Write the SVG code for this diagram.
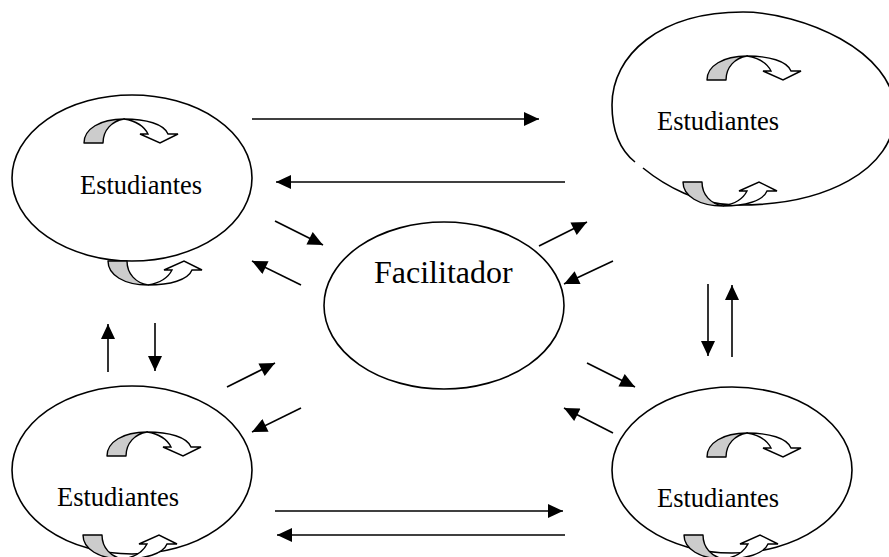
<svg xmlns="http://www.w3.org/2000/svg" xmlns:xlink="http://www.w3.org/1999/xlink" width="889" height="557" viewBox="0 0 889 557">
<style>
.node{fill:#fff;stroke:#000;stroke-width:1.6}
.lbl{font-family:"Liberation Serif","Times New Roman",serif;font-size:26.5px;fill:#000}
.big{font-size:32px}
.g{fill:#cccccc;stroke:#000;stroke-width:1.4;stroke-linejoin:round}
.w{fill:#fff;stroke:#000;stroke-width:1.4;stroke-linejoin:miter}
.c{stroke:#000;stroke-width:1.6;fill:none;marker-end:url(#ah)}
</style>
<defs>
<marker id="ah" markerUnits="userSpaceOnUse" markerWidth="16" markerHeight="14" refX="15" refY="7" orient="auto" viewBox="0 0 15 14">
<path d="M0,0 L15,7 L0,14 Z" fill="#000"/>
</marker>
<g id="ca">
<path class="g" d="M0,0 C0,-14 16,-24 40,-24 C28,-22 19,-13 19,0 Z"/>
<path class="w" d="M40,-24 C62,-24 80,-19 84,-9 L94,-9 L76,0 L56,-9 L64,-9 C60,-17 52,-22 40,-24 Z"/>
</g>
</defs>
<rect width="889" height="557" fill="#fff"/>
<g id="connectors">
<line class="c" x1="252" y1="119" x2="539" y2="119"/>
<line class="c" x1="565" y1="182" x2="276" y2="182"/>
<line class="c" x1="275" y1="511" x2="563" y2="511"/>
<line class="c" x1="565" y1="535" x2="277" y2="535"/>
<line class="c" x1="108" y1="372" x2="108" y2="324"/>
<line class="c" x1="155" y1="323" x2="155" y2="371"/>
<line class="c" x1="708" y1="284" x2="708" y2="356"/>
<line class="c" x1="732" y1="357" x2="732" y2="285"/>
<line class="c" x1="275" y1="221" x2="323" y2="245"/>
<line class="c" x1="301" y1="285" x2="252" y2="261"/>
<line class="c" x1="539" y1="246" x2="587" y2="222"/>
<line class="c" x1="613" y1="261" x2="564" y2="284"/>
<line class="c" x1="227" y1="387" x2="275" y2="363"/>
<line class="c" x1="301" y1="408" x2="252" y2="432"/>
<line class="c" x1="587" y1="363" x2="635" y2="387"/>
<line class="c" x1="613" y1="433" x2="564" y2="408"/>
</g>
<g id="node-tl">
<ellipse class="node" cx="132" cy="178" rx="120" ry="83"/>
<text class="lbl" x="80" y="194">Estudiantes</text>
<use xlink:href="#ca" transform="translate(84,143)"/>
<use xlink:href="#ca" transform="translate(108,261) scale(1,-1)"/>
</g>
<g id="node-tr">
<path class="node" d="M643,168 C665,186 700,205 735,205 C825,206 895,170 895,112 C895,50 800,12 743,12 C660,12 612,55 612,105 C612,130 620,150 635,162"/>
<text class="lbl" x="657" y="130">Estudiantes</text>
<use xlink:href="#ca" transform="translate(707,80)"/>
<use xlink:href="#ca" transform="translate(683,182) scale(1,-1)"/>
</g>
<g id="node-center">
<ellipse class="node" cx="444" cy="305.5" rx="120" ry="83.5"/>
<text class="lbl big" x="374" y="283">Facilitador</text>
</g>
<g id="node-bl">
<ellipse class="node" cx="132" cy="470" rx="120" ry="84"/>
<text class="lbl" x="57" y="506">Estudiantes</text>
<use xlink:href="#ca" transform="translate(107,456)"/>
<use xlink:href="#ca" transform="translate(83,535) scale(1,-1)"/>
</g>
<g id="node-br">
<ellipse class="node" cx="732" cy="470" rx="120" ry="83"/>
<text class="lbl" x="657" y="507">Estudiantes</text>
<use xlink:href="#ca" transform="translate(707,457)"/>
<use xlink:href="#ca" transform="translate(684,535) scale(1,-1)"/>
</g>
</svg>
